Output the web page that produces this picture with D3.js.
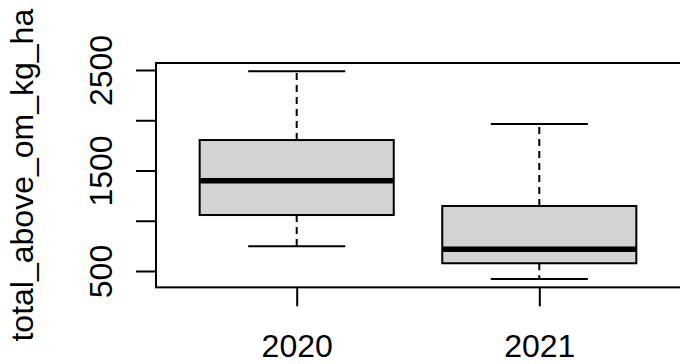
<!DOCTYPE html>
<html><head><meta charset="utf-8">
<script src="https://cdn.jsdelivr.net/npm/d3@7"></script>
<style>body{margin:0;background:#fff}svg{display:block}text{font-family:"Liberation Sans",Arial,sans-serif;fill:#000}</style>
</head><body>
<script>
const categories = ["2020", "2021"];
const mins    = [746, 420];
const q1s     = [1057, 577];
const medians = [1398, 716];
const q3s     = [1803, 1147];
const maxs    = [2487, 1963];
const yTicks  = [500, 1000, 1500, 2000, 2500];
const yTickLabels = ["500", "", "1500", "", "2500"];
const yLabel  = "total_above_om_kg_ha";

const W = 680, H = 364;
const svg = d3.select("body").append("svg").attr("width", W).attr("height", H);

const lo = d3.min(mins), hi = d3.max(maxs), ext = (hi - lo) * 0.04;
const y = d3.scaleLinear().domain([500, 2500]).range([271, 70]);
const x = d3.scaleLinear().domain([0.42, 2.58]).range([156, 680]);
const yTop = y(hi + ext), yBot = y(lo - ext);

const data = categories.map((c, i) => ({c, i: i + 1, min: mins[i], q1: q1s[i], med: medians[i], q3: q3s[i], max: maxs[i]}));
const bw = x(1.4) - x(1);   // half box width
const sw = bw / 2;          // staple half width

const g = svg.append("g");
data.forEach(d => {
  const cx = x(d.i);
  g.append("line").attr("x1", cx).attr("x2", cx).attr("y1", y(d.q3)).attr("y2", y(d.max))
    .attr("stroke", "#000").attr("stroke-width", 2).attr("stroke-dasharray", "7,5");
  g.append("line").attr("x1", cx).attr("x2", cx).attr("y1", y(d.q1)).attr("y2", y(d.min))
    .attr("stroke", "#000").attr("stroke-width", 2).attr("stroke-dasharray", "7,5");
  [d.max, d.min].forEach(v => g.append("line").attr("x1", cx - sw).attr("x2", cx + sw)
    .attr("y1", y(v)).attr("y2", y(v)).attr("stroke", "#000").attr("stroke-width", 2));
  g.append("rect").attr("x", cx - bw).attr("width", 2 * bw).attr("y", y(d.q3)).attr("height", y(d.q1) - y(d.q3))
    .attr("fill", "#d3d3d3").attr("stroke", "#000").attr("stroke-width", 2);
  g.append("line").attr("x1", cx - bw).attr("x2", cx + bw).attr("y1", y(d.med)).attr("y2", y(d.med))
    .attr("stroke", "#000").attr("stroke-width", 5.5);
});

svg.append("rect").attr("x", 156).attr("y", yTop).attr("width", 700 - 156).attr("height", yBot - yTop)
  .attr("fill", "none").attr("stroke", "#000").attr("stroke-width", 2);

const ya = svg.append("g").attr("transform", "translate(156,0)")
  .call(d3.axisLeft(y).tickValues(yTicks).tickSize(20).tickSizeOuter(0).tickPadding(0)
    .tickFormat((d, i) => yTickLabels[i]));
ya.select(".domain").attr("d", `M0,${y(yTicks[0])}V${y(yTicks[yTicks.length-1])}`).attr("stroke-width", 2);
ya.selectAll(".tick line").attr("stroke-width", 2);
ya.selectAll(".tick text").attr("x", null).attr("dy", null)
  .attr("transform", "translate(-44,0) rotate(-90)").attr("text-anchor", "middle")
  .style("font-size", "32px").style("font-family", '"Liberation Sans",Arial,sans-serif');

const xa = svg.append("g").attr("transform", `translate(0,${yBot})`)
  .call(d3.axisBottom(x).tickValues([1, 2]).tickSize(19).tickSizeOuter(0).tickPadding(0)
    .tickFormat(d => categories[d - 1]));
xa.select(".domain").remove();
xa.selectAll(".tick line").attr("stroke-width", 2);
xa.selectAll(".tick text").attr("y", 70).attr("dy", null)
  .style("font-size", "32px").style("font-family", '"Liberation Sans",Arial,sans-serif');

svg.append("text").attr("transform", `translate(33,${(yTop + yBot) / 2}) rotate(-90)`)
  .attr("text-anchor", "middle").style("font-size", "32px").text(yLabel);
</script>
</body></html>
